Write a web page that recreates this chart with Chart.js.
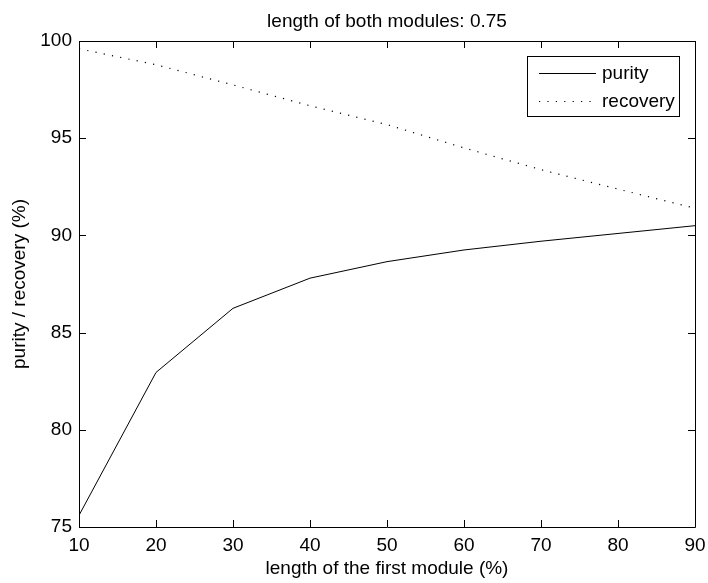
<!DOCTYPE html>
<html>
<head>
<meta charset="utf-8">
<script src="https://cdn.jsdelivr.net/npm/chart.js@4"></script>
<style>
  html, body { margin: 0; padding: 0; background: #fff; }
  #wrap { width: 708px; height: 583px; }
</style>
</head>
<body>
<div id="wrap"><canvas id="myChart" width="708" height="583"></canvas></div>
<script>
/*----------- data ------------ */
const firstModule = [10, 20, 30, 40, 50, 60, 70, 80, 90];
const purity = [75.6, 82.95, 86.25, 87.8, 88.65, 89.25, 89.7, 90.1, 90.5];
const recovery = [99.6, 98.78, 97.74, 96.67, 95.7, 94.5, 93.38, 92.38, 91.4];

const xTicks = [10, 20, 30, 40, 50, 60, 70, 80, 90];
const yTicks = [75, 80, 85, 90, 95, 100];

const chartTitle = 'length of both modules: 0.75';

const FONT = 'Liberation Sans, Arial, Helvetica, sans-serif';

// box round the plot, inward ticks on all four sides, legend inside,
// title centred over the plot area
const matlabAxes = {
    id: 'matlabAxes',
    afterDatasetsDraw(chart) {
        const ctx = chart.ctx;
        const a = chart.chartArea;
        const xs = chart.scales.x, ys = chart.scales.y;
        const len = 7;
        ctx.save();
        ctx.strokeStyle = '#000';
        ctx.lineWidth = 1;
        ctx.setLineDash([]);
        ctx.beginPath();
        ctx.rect(a.left + 0.5, a.top + 0.5, a.right - a.left, a.bottom - a.top);
        xTicks.forEach(v => {
            const px = Math.round(xs.getPixelForValue(v)) + 0.5;
            ctx.moveTo(px, a.bottom); ctx.lineTo(px, a.bottom - len);
            ctx.moveTo(px, a.top); ctx.lineTo(px, a.top + len);
        });
        yTicks.forEach(v => {
            const py = Math.round(ys.getPixelForValue(v)) + 0.5;
            ctx.moveTo(a.left, py); ctx.lineTo(a.left + len, py);
            ctx.moveTo(a.right, py); ctx.lineTo(a.right - len, py);
        });
        ctx.stroke();

        // title
        ctx.font = '19px ' + FONT;
        ctx.fillStyle = '#000';
        ctx.textAlign = 'center';
        ctx.textBaseline = 'alphabetic';
        ctx.fillText(chartTitle, (a.left + a.right) / 2, 27);

        // legend
        const bx = 527.5, by = 56.5, bw = 152, bh = 60;
        ctx.fillStyle = '#fff';
        ctx.fillRect(bx, by, bw, bh);
        ctx.strokeRect(bx, by, bw, bh);
        ctx.textAlign = 'left';
        ctx.textBaseline = 'middle';
        ctx.fillStyle = '#000';
        chart.data.datasets.forEach((ds, i) => {
            const y = 73.5 + i * 28;
            ctx.setLineDash(ds.borderDash || []);
            ctx.lineWidth = ds.borderWidth;
            ctx.beginPath();
            ctx.moveTo(539, y); ctx.lineTo(596, y);
            ctx.stroke();
            ctx.fillText(ds.label, 602, y);
        });
        ctx.restore();
    }
};

const config = {
    type: 'line',
    data: {
        labels: firstModule,
        datasets: [{
            label: 'purity',
            data: firstModule.map((x, i) => ({ x: x, y: purity[i] })),
            borderColor: '#000',
            borderWidth: 1,
            pointRadius: 0,
            tension: 0
        }, {
            label: 'recovery',
            data: firstModule.map((x, i) => ({ x: x, y: recovery[i] })),
            borderColor: '#000',
            borderWidth: 1.2,
            borderDash: [1.2, 7.2],
            pointRadius: 0,
            tension: 0
        }]
    },
    options: {
        responsive: false,
        animation: false,
        devicePixelRatio: 1,
        layout: { padding: { left: 0, right: 13, top: 41, bottom: 0 } },
        plugins: {
            legend: { display: false },
            tooltip: { enabled: false },
            title: { display: false }
        },
        scales: {
            x: {
                type: 'linear',
                min: 10, max: 90,
                afterBuildTicks: s => { s.ticks = xTicks.map(v => ({ value: v })); },
                afterFit: s => { s.height = 56; s.paddingLeft = 0; s.paddingRight = 0; },
                grid: { display: false, drawTicks: false },
                border: { display: false },
                ticks: { color: '#000', padding: 7, font: { family: FONT, size: 19 } },
                title: {
                    display: true,
                    text: 'length of the first module (%)',
                    color: '#000',
                    font: { family: FONT, size: 19 },
                    padding: { top: 0, bottom: 3 }
                }
            },
            y: {
                type: 'linear',
                min: 75, max: 100,
                afterBuildTicks: s => { s.ticks = yTicks.map(v => ({ value: v })); },
                afterFit: s => { s.width = 79; s.paddingTop = 0; s.paddingBottom = 0; },
                grid: { display: false, drawTicks: false },
                border: { display: false },
                ticks: { color: '#000', padding: 7, font: { family: FONT, size: 19 } },
                title: {
                    display: true,
                    text: 'purity / recovery (%)',
                    color: '#000',
                    font: { family: FONT, size: 19 },
                    padding: { top: 8, bottom: 0 }
                }
            }
        }
    },
    plugins: [matlabAxes]
};

const myChart = new Chart(document.getElementById('myChart'), config);
</script>
</body>
</html>
